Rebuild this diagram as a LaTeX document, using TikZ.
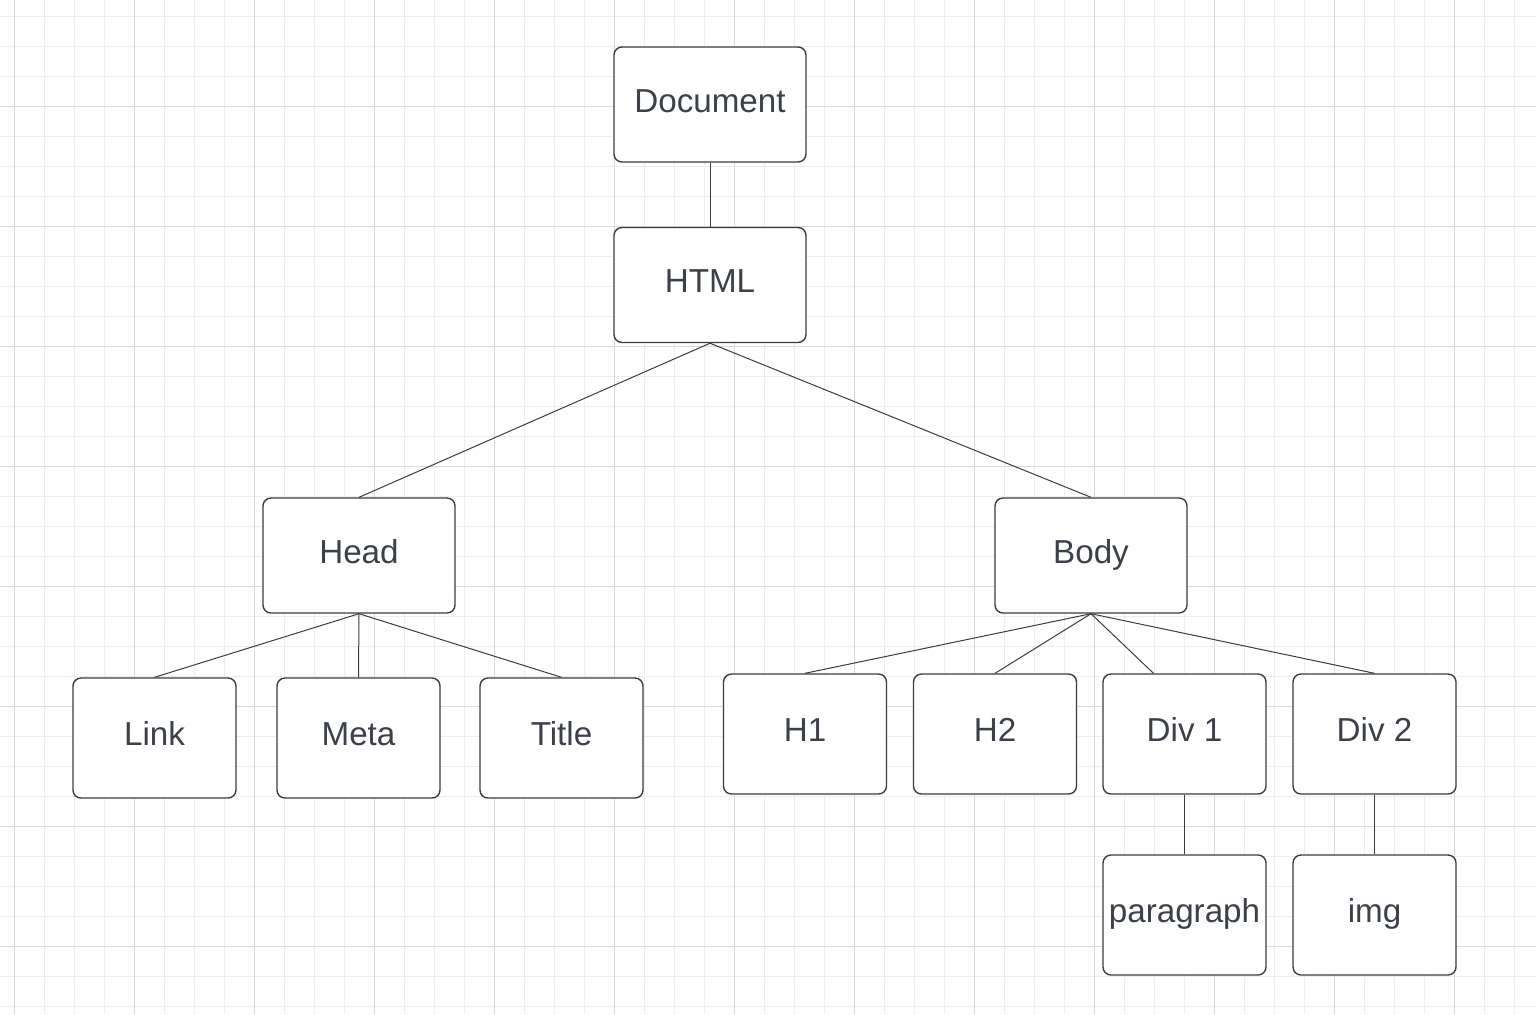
\documentclass[tikz,border=0pt]{standalone}
\usepackage{fontspec}
\setmainfont{Liberation Sans}
\definecolor{boxline}{HTML}{3A3D42}
\definecolor{boxtext}{HTML}{3B4049}
\definecolor{gridminor}{HTML}{EDEDED}
\definecolor{gridmajor}{HTML}{DADADA}

\begin{document}
\begin{tikzpicture}[x=0.5pt,y=-0.5pt,
    tag/.style={draw=boxline,line width=0.7pt,rounded corners=4pt,fill=white,
        text=boxtext,font=\fontsize{16.6}{19}\selectfont,
        text height=12.5pt,text depth=5pt,inner sep=0pt},
    bigtag/.style={tag,minimum width=96pt,minimum height=57.5pt},
    leaftag/.style={tag,minimum width=81.5pt,minimum height=60pt},
    link/.style={draw=boxline,line width=0.5pt}]
                \useasboundingbox (0,0) rectangle (1536,1014);
                \fill[white] (0,0) rectangle (1536,1014);
                % grid
                \foreach \gx in {14,44,...,1534} \draw[gridminor,line width=0.5pt] (\gx,0)--(\gx,1014);
                \foreach \gy in {16,46,...,1006} \draw[gridminor,line width=0.5pt] (0,\gy)--(1536,\gy);
                \foreach \gx in {14,134,...,1454} \draw[gridmajor,line width=0.5pt] (\gx,0)--(\gx,1014);
                \foreach \gy in {106,226,...,946} \draw[gridmajor,line width=0.5pt] (0,\gy)--(1536,\gy);
                % nodes
                \node[bigtag] (doc) at (710,104.5) {Document};
                \node[bigtag] (html) at (710,285) {HTML};
                \node[bigtag] (head) at (359,555.5) {Head};
                \node[bigtag] (body) at (1091,555.5) {Body};
                \node[leaftag] (lnk) at (154.5,738) {Link};
                \node[leaftag] (meta) at (358.5,738) {Meta};
                \node[leaftag] (title) at (561.5,738) {Title};
                \node[leaftag] (hone) at (805,734) {H1};
                \node[leaftag] (htwo) at (995,734) {H2};
                \node[leaftag] (divone) at (1184.5,734) {Div 1};
                \node[leaftag] (divtwo) at (1374.5,734) {Div 2};
                \node[leaftag] (para) at (1184.5,915) {paragraph};
                \node[leaftag] (img) at (1374.5,915) {img};
                % connectors
                \draw[link] (doc.south)--(html.north);
                \draw[link] (head.north)--(html.south)--(body.north);
                \draw[link] (lnk.north)--(head.south)--(title.north);
                \draw[link] (head.south)--(meta.north);
                \draw[link] (hone.north)--(body.south)--(divtwo.north);
                \draw[link] (htwo.north)--(body.south)--([xshift=-15.5pt]divone.north);
                \draw[link] (divone.south)--(para.north);
                \draw[link] (divtwo.south)--(img.north);
                \end{tikzpicture}
\end{document}
